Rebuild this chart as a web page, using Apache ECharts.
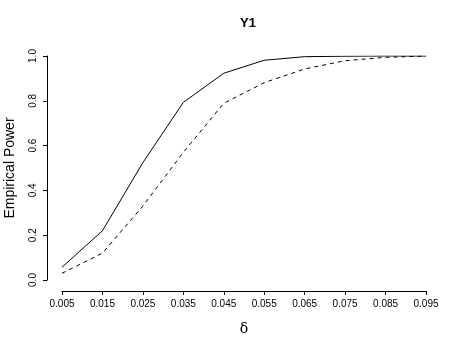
<!DOCTYPE html>
<html>
<head>
<meta charset="utf-8">
<script src="https://cdn.jsdelivr.net/npm/echarts@6/dist/echarts.min.js"></script>
<style>
html, body { margin: 0; padding: 0; background: #fff; }
#charts { width: 465px; height: 349px; }
</style>
</head>
<body>
<div id="charts"></div>
<script>
var deltas = ['0.005', '0.015', '0.025', '0.035', '0.045', '0.055', '0.065', '0.075', '0.085', '0.095'];
var powerSolid = [0.057, 0.22, 0.524, 0.793, 0.923, 0.981, 0.997, 0.999, 1.0, 1.0];
var powerDashed = [0.03, 0.12, 0.33, 0.57, 0.789, 0.881, 0.942, 0.979, 0.994, 1.0];
var yTicks = [0, 0.2, 0.4, 0.6, 0.8, 1.0];

var myChart = echarts.init(document.getElementById('charts'));
var option = {
    animation: false,
    backgroundColor: '#fff',
    title: {
        text: 'Y1',
        left: 243,
        top: 12,
        textAlign: 'center',
        textStyle: { fontFamily: 'Liberation Sans', fontWeight: 'bold', fontSize: 13, color: '#000' }
    },
    grid: {
        left: 62,
        right: 39,
        top: 56,
        bottom: 69,
        containLabel: false,
        outerBoundsMode: 'none'
    },
    xAxis: {
        type: 'category',
        boundaryGap: false,
        data: deltas,
        offset: 11,
        name: 'δ',
        nameLocation: 'middle',
        nameGap: 31,
        nameTextStyle: { fontFamily: 'DejaVu Serif', fontSize: 14, color: '#000' },
        axisLine: { onZero: false, lineStyle: { color: '#000', width: 1 } },
        axisTick: { alignWithLabel: true, length: 4, lineStyle: { color: '#000' } },
        axisLabel: { color: '#000', fontFamily: 'Liberation Sans', fontSize: 10, margin: 8, interval: 0 },
        splitLine: { show: false }
    },
    yAxis: {
        type: 'value',
        min: 0,
        max: 1,
        interval: 0.2,
        offset: 15,
        name: 'Empirical Power',
        nameLocation: 'middle',
        nameGap: 30,
        nameTextStyle: { fontFamily: 'Liberation Sans', fontSize: 14, color: '#000' },
        axisLine: { show: true, onZero: false, lineStyle: { color: '#000', width: 1 } },
        axisTick: { show: true, length: 4, lineStyle: { color: '#000' } },
        axisLabel: {
            color: '#000', fontFamily: 'Liberation Sans', fontSize: 10, rotate: 90, margin: 9,
            formatter: function (v) { return yTicks.indexOf(v) >= 0 ? v.toFixed(1) : ''; }
        },
        splitLine: { show: false }
    },
    series: [
        {
            name: 'solid',
            type: 'line',
            data: powerSolid,
            showSymbol: false,
            lineStyle: { color: '#000', width: 1, type: 'solid' }
        },
        {
            name: 'dashed',
            type: 'line',
            data: powerDashed,
            showSymbol: false,
            lineStyle: { color: '#000', width: 1, type: [4, 4] }
        }
    ]
};
myChart.setOption(option);
</script>
</body>
</html>
